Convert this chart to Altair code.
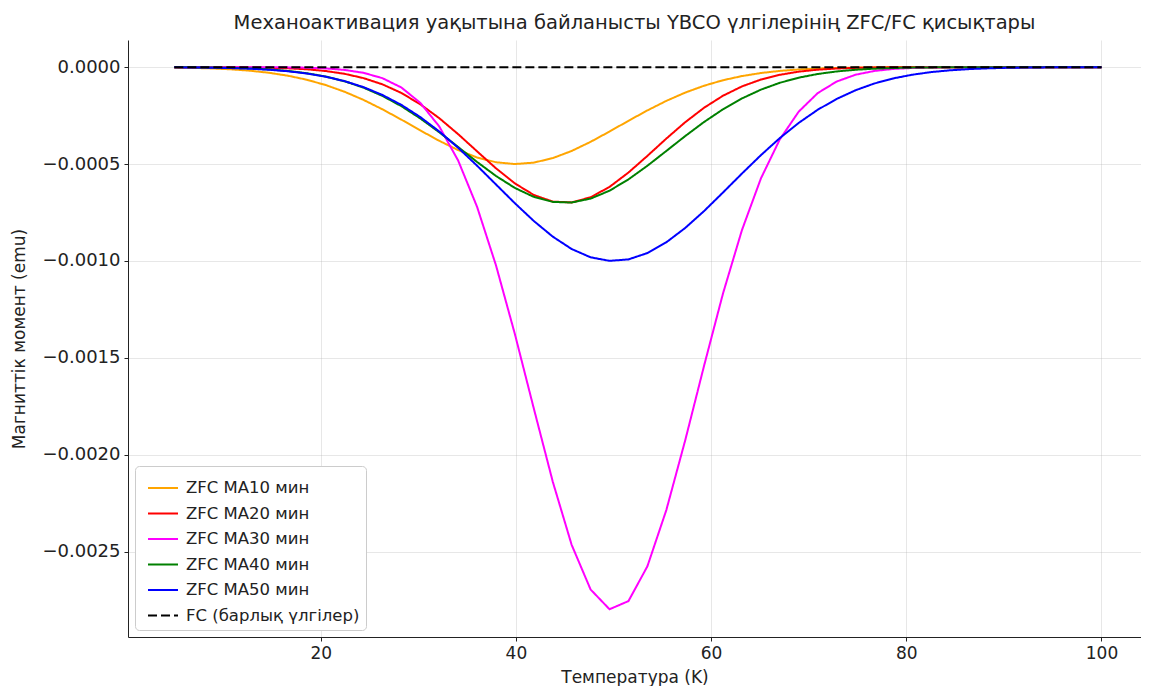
import altair as alt
import pandas as pd

# Temperature sample points (K)
temps = [5.00, 6.94, 8.88, 10.82, 12.76, 14.69, 16.63, 18.57, 20.51, 22.45,
         24.39, 26.33, 28.27, 30.20, 32.14, 34.08, 36.02, 37.96, 39.90, 41.84,
         43.78, 45.71, 47.65, 49.59, 51.53, 53.47, 55.41, 57.35, 59.29, 61.22,
         63.16, 65.10, 67.04, 68.98, 70.92, 72.86, 74.80, 76.73, 78.67, 80.61,
         82.55, 84.49, 86.43, 88.37, 90.31, 92.24, 94.18, 96.12, 98.06, 100.00]

zfc_ma10 = [-0.0000022, -0.0000039, -0.0000068, -0.0000114, -0.0000185, -0.0000290, -0.0000442, -0.0000650, -0.0000924, -0.0001272,
            -0.0001692, -0.0002178, -0.0002711, -0.0003264, -0.0003800, -0.0004279, -0.0004660, -0.0004908, -0.0005000, -0.0004926,
            -0.0004693, -0.0004325, -0.0003854, -0.0003322, -0.0002769, -0.0002233, -0.0001741, -0.0001313, -0.0000957, -0.0000675,
            -0.0000461, -0.0000304, -0.0000194, -0.0000120, -0.0000071, -0.0000041, -0.0000023, -0.0000012, -0.0000006, -0.0000003,
            -0.0000002, -0.0000001, 0.0, 0.0, 0.0, 0.0, 0.0, 0.0, 0.0, 0.0]

zfc_ma20 = [-0.0000001, -0.0000001, -0.0000003, -0.0000007, -0.0000015, -0.0000031, -0.0000060, -0.0000112, -0.0000201, -0.0000345,
            -0.0000567, -0.0000889, -0.0001335, -0.0001916, -0.0002632, -0.0003458, -0.0004344, -0.0005221, -0.0006001, -0.0006598,
            -0.0006938, -0.0006979, -0.0006714, -0.0006179, -0.0005438, -0.0004579, -0.0003687, -0.0002840, -0.0002092, -0.0001475,
            -0.0000994, -0.0000641, -0.0000395, -0.0000233, -0.0000131, -0.0000071, -0.0000037, -0.0000018, -0.0000009, -0.0000004,
            -0.0000002, -0.0000001, 0.0, 0.0, 0.0, 0.0, 0.0, 0.0, 0.0, 0.0]

zfc_ma30 = [0.0, 0.0, 0.0, -0.0000001, -0.0000002, -0.0000005, -0.0000012, -0.0000029, -0.0000067, -0.0000144,
            -0.0000294, -0.0000571, -0.0001053, -0.0001842, -0.0003058, -0.0004819, -0.0007207, -0.0010231, -0.0013784, -0.0017626,
            -0.0021396, -0.0024646, -0.0026949, -0.0027968, -0.0027548, -0.0025755, -0.0022853, -0.0019246, -0.0015385, -0.0011675,
            -0.0008407, -0.0005745, -0.0003727, -0.0002294, -0.0001341, -0.0000744, -0.0000392, -0.0000196, -0.0000093, -0.0000042,
            -0.0000018, -0.0000007, -0.0000003, -0.0000001, 0.0, 0.0, 0.0, 0.0, 0.0, 0.0]

zfc_ma40 = [-0.0000006, -0.0000011, -0.0000021, -0.0000039, -0.0000069, -0.0000118, -0.0000196, -0.0000314, -0.0000487, -0.0000730,
            -0.0001059, -0.0001486, -0.0002016, -0.0002646, -0.0003358, -0.0004121, -0.0004892, -0.0005616, -0.0006235, -0.0006696,
            -0.0006954, -0.0006984, -0.0006784, -0.0006374, -0.0005791, -0.0005089, -0.0004325, -0.0003555, -0.0002826, -0.0002173,
            -0.0001616, -0.0001162, -0.0000808, -0.0000543, -0.0000354, -0.0000222, -0.0000135, -0.0000080, -0.0000045, -0.0000025,
            -0.0000013, -0.0000007, -0.0000003, -0.0000002, -0.0000001, 0.0, 0.0, 0.0, 0.0, 0.0]

zfc_ma50 = [-0.0000009, -0.0000016, -0.0000029, -0.0000049, -0.0000082, -0.0000134, -0.0000212, -0.0000328, -0.0000493, -0.0000723,
            -0.0001033, -0.0001438, -0.0001950, -0.0002577, -0.0003317, -0.0004161, -0.0005085, -0.0006055, -0.0007025, -0.0007941,
            -0.0008746, -0.0009384, -0.0009811, -0.0009994, -0.0009919, -0.0009592, -0.0009037, -0.0008296, -0.0007420, -0.0006467,
            -0.0005491, -0.0004542, -0.0003661, -0.0002875, -0.0002200, -0.0001641, -0.0001192, -0.0000843, -0.0000581, -0.0000391,
            -0.0000256, -0.0000163, -0.0000101, -0.0000061, -0.0000036, -0.0000021, -0.0000012, -0.0000006, -0.0000003, -0.0000002]

fc_temps = [5.0, 100.0]
fc_all = [0.0, 0.0]

series_names = ["ZFC MA10 мин", "ZFC MA20 мин", "ZFC MA30 мин", "ZFC MA40 мин", "ZFC MA50 мин", "FC (барлық үлгілер)"]
series_colors = ["orange", "red", "magenta", "green", "blue", "black"]
series_dashes = [[1, 0], [1, 0], [1, 0], [1, 0], [1, 0], [9, 4]]

x_ticks = [20, 40, 60, 80, 100]
y_ticks = [0.0, -0.0005, -0.0010, -0.0015, -0.0020, -0.0025]

rows = []
for name, vals in zip(series_names[:5], [zfc_ma10, zfc_ma20, zfc_ma30, zfc_ma40, zfc_ma50]):
    for t, m in zip(temps, vals):
        rows.append({"T": t, "M": m, "series": name})
for t, m in zip(fc_temps, fc_all):
    rows.append({"T": t, "M": m, "series": series_names[5]})
df = pd.DataFrame(rows)

FONT = "DejaVu Sans"

chart = alt.Chart(df).mark_line(strokeWidth=2).encode(
    x=alt.X("T:Q",
            scale=alt.Scale(domain=[0.25, 104.05], nice=False, zero=False),
            axis=alt.Axis(values=x_ticks, title="Температура (K)", format="d")),
    y=alt.Y("M:Q",
            scale=alt.Scale(domain=[-0.00294, 0.00014], nice=False, zero=False),
            axis=alt.Axis(values=y_ticks, title="Магниттік момент (emu)", format=".4f")),
    color=alt.Color("series:N",
                    scale=alt.Scale(domain=series_names, range=series_colors),
                    legend=alt.Legend(title=None)),
    strokeDash=alt.StrokeDash("series:N",
                              scale=alt.Scale(domain=series_names, range=series_dashes),
                              legend=alt.Legend(title=None)),
).properties(
    width=1013,
    height=597,
    autosize=alt.AutoSizeParams(type="none"),
    padding={"left": 120, "top": 32, "right": 0, "bottom": 49},
    title=alt.TitleParams(
        "Механоактивация уақытына байланысты YBCO үлгілерінің ZFC/FC қисықтары",
        font=FONT, fontSize=19.5, fontWeight="normal", color="#222222",
        anchor="middle", offset=7),
).configure_view(
    strokeWidth=0
).configure_axis(
    labelFont=FONT, titleFont=FONT, labelFontSize=17, titleFontSize=17,
    labelColor="#222222", titleColor="#222222", titleFontWeight="normal",
    domainColor="#222222", tickColor="#222222", tickSize=4,
    gridColor="#b0b0b0", gridOpacity=0.3, gridWidth=1,
).configure_axisX(
    labelPadding=4, titlePadding=8
).configure_axisY(
    labelFontSize=18, labelPadding=4, titlePadding=13
).configure_legend(
    orient="bottom-left", offset=7, symbolType="stroke", symbolSize=900,
    symbolStrokeWidth=2, symbolOffset=6, labelFont=FONT, labelFontSize=16.5,
    labelColor="#222222", labelLimit=400,
    fillColor="white", strokeColor="#cccccc", cornerRadius=4, padding=6,
    rowPadding=0.5, labelOffset=7
)

chart.save("out.html", embed_options={"renderer": "svg", "actions": False})
